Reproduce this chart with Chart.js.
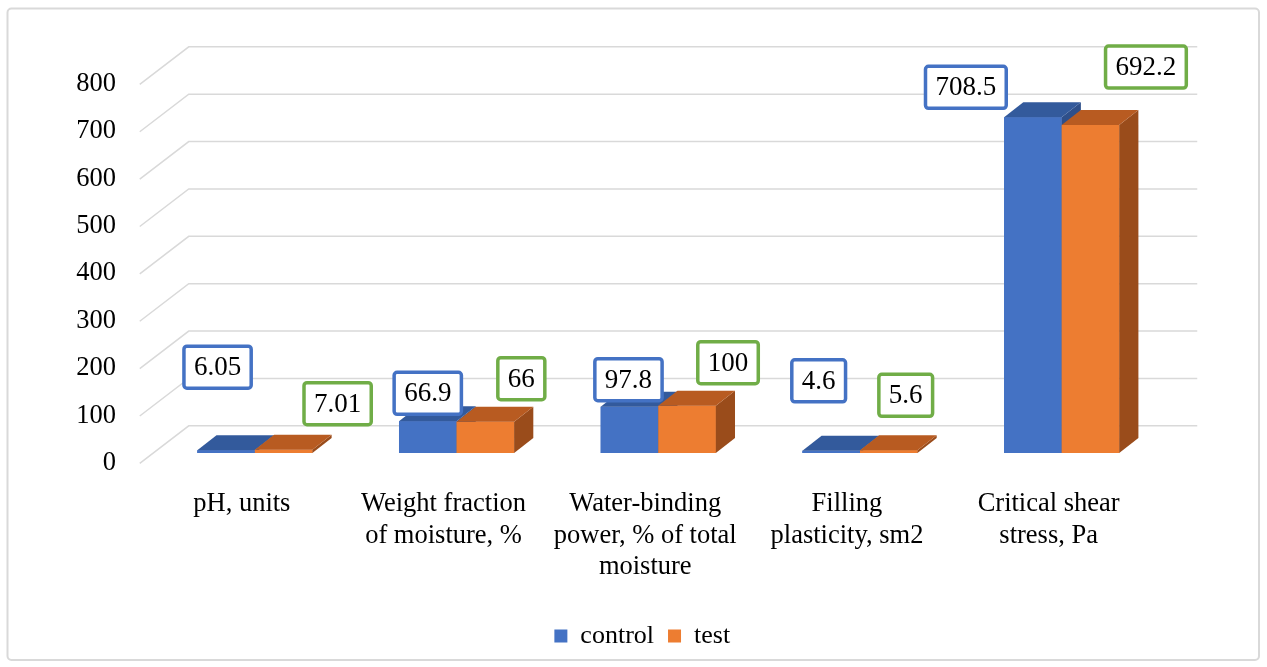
<!DOCTYPE html>
<html>
<head>
<meta charset="utf-8">
<script src="https://cdn.jsdelivr.net/npm/chart.js@4.4.1/dist/chart.umd.min.js"></script>
<style>
  html, body { margin: 0; padding: 0; background: #ffffff; }
  #wrap { width: 1267px; height: 667px; }
</style>
</head>
<body>
<div id="wrap"><canvas id="chart" width="1267" height="667"></canvas></div>
<script>
// Categories (multi-line axis labels)
const categories = [
  ['pH, units'],
  ['Weight fraction', 'of moisture, %'],
  ['Water-binding', 'power, % of total', 'moisture'],
  ['Filling', 'plasticity, sm2'],
  ['Critical shear', 'stress, Pa']
];
const seriesNames = ['control', 'test'];
const controlValues = [6.05, 66.9, 97.8, 4.6, 708.5];
const testValues = [7.01, 66, 100, 5.6, 692.2];
const yMin = 0, yMax = 800, yStep = 100;

// Hand-placed nudges for the boxed value labels (px, from the bar's front-top centre)
const controlLabelShift = [[-8.5, -83], [0, -28], [-1, -27], [-12.5, -70], [-67, -30]];
const testLabelShift = [[54, -46], [36, -43], [41, -43], [17, -55], [55.5, -58]];

const FONT = '"Liberation Serif", "Times New Roman", serif';
const COLORS = {
  control: { front: '#4472C4', top: '#335A9C', side: '#2E4F8A', label: '#4472C4' },
  test:    { front: '#ED7D31', top: '#B85B21', side: '#9A4C1B', label: '#70AD47' }
};

// Oblique projection of the floor/back wall
const WALL_DX = 48, WALL_DY = 37.5;   // full depth of the plot box
const BAR_FRONT = 0.276;              // depth fraction where bar fronts sit
const BAR_DEPTH = 0.4;                // bar depth as a fraction of the box
const LEGEND_SHIFT = 51;              // legend sits a little right of the plot centre

const frame = {
  id: 'frame',
  beforeDraw(chart) {
    const ctx = chart.ctx;
    ctx.save();
    ctx.strokeStyle = '#D9D9D9';
    ctx.lineWidth = 2;
    ctx.beginPath();
    ctx.roundRect(7.5, 8.5, 1251.5, 651.5, 4);
    ctx.stroke();
    ctx.restore();
  },
  afterLayout(chart) {
    if (chart.legend) {
      chart.legend.left += LEGEND_SHIFT;
      chart.legend.right += LEGEND_SHIFT;
    }
  }
};

const walls = {
  id: 'walls',
  beforeDatasetsDraw(chart) {
    const { ctx, chartArea: ca, scales: { y } } = chart;
    const fdx = BAR_FRONT * WALL_DX, fdy = BAR_FRONT * WALL_DY;
    const bdx = (1 - BAR_FRONT) * WALL_DX, bdy = (1 - BAR_FRONT) * WALL_DY;
    ctx.save();
    ctx.strokeStyle = '#D9D9D9';
    ctx.lineWidth = 1.5;
    for (let v = yMin; v <= yMax; v += yStep) {
      const py = y.getPixelForValue(v);
      ctx.beginPath();
      ctx.moveTo(ca.left - fdx - 1, py + fdy);
      ctx.lineTo(ca.left + bdx, py - bdy);
      ctx.lineTo(ca.right + bdx, py - bdy);
      ctx.stroke();
    }
    ctx.restore();
  }
};

function poly(ctx, pts, fill) {
  ctx.beginPath();
  ctx.moveTo(pts[0][0], pts[0][1]);
  for (let i = 1; i < pts.length; i++) ctx.lineTo(pts[i][0], pts[i][1]);
  ctx.closePath();
  ctx.fillStyle = fill;
  ctx.fill();
}

const boxes3d = {
  id: 'boxes3d',
  afterDatasetsDraw(chart) {
    const ctx = chart.ctx;
    const ddx = BAR_DEPTH * WALL_DX, ddy = BAR_DEPTH * WALL_DY;
    const keys = ['control', 'test'];
    ctx.save();
    for (let i = 0; i < categories.length; i++) {
      for (let d = 0; d < 2; d++) {
        const bar = chart.getDatasetMeta(d).data[i];
        const c = COLORS[keys[d]];
        const xl = bar.x - bar.width / 2, xr = bar.x + bar.width / 2;
        const top = bar.y, base = bar.base;
        poly(ctx, [[xl, top], [xr, top], [xr, base], [xl, base]], c.front);
        poly(ctx, [[xr, top], [xr + ddx, top - ddy], [xr + ddx, base - ddy], [xr, base]], c.side);
        poly(ctx, [[xl, top], [xr, top], [xr + ddx, top - ddy], [xl + ddx, top - ddy]], c.top);
      }
    }
    ctx.restore();
  },
  afterDraw(chart) {
    const ctx = chart.ctx;
    const keys = ['control', 'test'];
    const shifts = [controlLabelShift, testLabelShift];
    ctx.save();
    ctx.font = '27px ' + FONT;
    ctx.textAlign = 'center';
    ctx.textBaseline = 'middle';
    for (let d = 0; d < 2; d++) {
      const meta = chart.getDatasetMeta(d);
      const vals = chart.data.datasets[d].data;
      meta.data.forEach((bar, i) => {
        const txt = String(vals[i]);
        const cx = bar.x + shifts[d][i][0];
        const cy = bar.y + shifts[d][i][1];
        const w = ctx.measureText(txt).width + 20;
        const h = 42;
        ctx.beginPath();
        ctx.roundRect(cx - w / 2, cy - h / 2, w, h, 3);
        ctx.fillStyle = '#ffffff';
        ctx.fill();
        ctx.lineWidth = 3.5;
        ctx.strokeStyle = COLORS[keys[d]].label;
        ctx.stroke();
        ctx.fillStyle = '#000000';
        ctx.fillText(txt, cx, cy + 1);
      });
    }
    ctx.restore();
  }
};

new Chart(document.getElementById('chart'), {
  type: 'bar',
  data: {
    labels: categories,
    datasets: [
      { label: seriesNames[0], data: controlValues, backgroundColor: COLORS.control.front,
        borderWidth: 0, categoryPercentage: 0.5707, barPercentage: 1.0 },
      { label: seriesNames[1], data: testValues, backgroundColor: COLORS.test.front,
        borderWidth: 0, categoryPercentage: 0.5707, barPercentage: 1.0 }
    ]
  },
  options: {
    responsive: false,
    animation: false,
    layout: { padding: { top: 74, left: 20, right: 104.5, bottom: 8 } },
    scales: {
      x: {
        grid: { display: false, drawTicks: false },
        border: { display: false },
        ticks: {
          autoSkip: false, maxRotation: 0, minRotation: 0,
          padding: 35, labelOffset: -13,
          color: '#000000',
          font: { family: FONT, size: 26.5, lineHeight: 1.2 }
        },
        afterFit(scale) { scale.height = 156; }
      },
      y: {
        min: yMin, max: yMax,
        grid: { display: false, drawTicks: false },
        border: { display: false },
        ticks: {
          stepSize: yStep, padding: 38, labelOffset: 10,
          color: '#000000',
          font: { family: FONT, size: 26.5 }
        },
        afterFit(scale) { scale.width = 134; }
      }
    },
    plugins: {
      legend: {
        position: 'bottom',
        labels: {
          boxWidth: 13, boxHeight: 13, padding: 14,
          color: '#000000',
          font: { family: FONT, size: 26 }
        }
      },
      tooltip: { enabled: false }
    }
  },
  plugins: [frame, walls, boxes3d]
});
</script>
</body>
</html>
